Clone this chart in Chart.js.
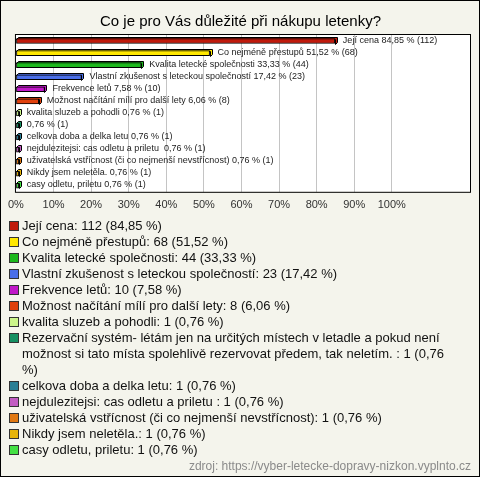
<!DOCTYPE html>
<html>
<head>
<meta charset="utf-8">
<script src="https://cdn.jsdelivr.net/npm/chart.js"></script>
<style>
    html, body { margin: 0; padding: 0; background: #f4f4ec; }
    #wrap {
        position: relative;
        width: 478px;
        height: 475px;
        border: 1px solid #000;
        background: #f4f4ec;
        font-family: "Liberation Sans", Arial, sans-serif;
    }
    #chartBox { position: absolute; left: 0; top: 0; width: 478px; height: 219px; }
    #legend {
        position: absolute;
        left: 8px;
        top: 217px;
        width: 448px;
        font-size: 13px;
        line-height: 16px;
        color: #111;
    }
    .item { display: flex; align-items: flex-start; }
    .box {
        flex: none;
        width: 8px;
        height: 8px;
        border: 1px solid #333;
        margin: 3px 3px 0 0;
    }
    #source {
        position: absolute;
        right: 8px;
        top: 458px;
        font-size: 12px;
        color: #8a8a8a;
    }
</style>
</head>
<body>
<div id="wrap">
    <div id="chartBox"><canvas id="answersChart"></canvas></div>
    <div id="legend"></div>
    <div id="source">zdroj: https://vyber-letecke-dopravy-nizkon.vyplnto.cz</div>
</div>
<script>
// Answers to the question
const categories = [
    'Její cena',
    'Co nejméně přestupů',
    'Kvalita letecké společnosti',
    'Vlastní zkušenost s leteckou společností',
    'Frekvence letů',
    'Možnost načítání mílí pro další lety',
    'kvalita sluzeb a pohodli',
    'Rezervační systém- létám jen na určitých místech v letadle a pokud není možnost si tato místa spolehlivě rezervovat předem, tak neletím. ',
    'celkova doba a delka letu',
    'nejdulezitejsi: cas odletu a priletu ',
    'uživatelská vstřícnost (či co nejmenší nevstřícnost)',
    'Nikdy jsem neletěla.',
    'casy odletu, priletu'
];
// names printed next to the bars (the long one is left out there)
const barNames = categories.map((c, i) => i === 7 ? '' : c);
const counts = [112, 68, 44, 23, 10, 8, 1, 1, 1, 1, 1, 1, 1];
const percents = [84.85, 51.52, 33.33, 17.42, 7.58, 6.06, 0.76, 0.76, 0.76, 0.76, 0.76, 0.76, 0.76];
const colors = [
    '#c01a0c', '#ffe800', '#1cb81c', '#4a6ee8', '#c018c8', '#e0400c', '#ccf58a',
    '#169062', '#2a7f95', '#c25cc2', '#e07812', '#e6b40a', '#44e044'
];
const xTicks = [0, 10, 20, 30, 40, 50, 60, 70, 80, 90, 100];

function fmt(v) {
    return v.toFixed(2).replace('.', ',');
}

// White plot box with black frame
const plotBox = {
    id: 'plotBox',
    beforeDraw(chart) {
        const a = chart.chartArea;
        const ctx = chart.ctx;
        ctx.save();
        ctx.fillStyle = '#fff';
        ctx.fillRect(a.left, a.top, a.right - a.left, a.bottom - a.top);
        ctx.restore();
    },
    afterDraw(chart) {
        const a = chart.chartArea;
        const ctx = chart.ctx;
        ctx.save();
        ctx.strokeStyle = '#000';
        ctx.lineWidth = 1;
        ctx.strokeRect(a.left - 0.5, a.top - 0.5, a.right - a.left + 1, a.bottom - a.top + 1);
        ctx.restore();
    }
};

// Fake 3D depth behind each bar
const depth = 2;
const bar3d = {
    id: 'bar3d',
    beforeDatasetsDraw(chart) {
        const ctx = chart.ctx;
        const meta = chart.getDatasetMeta(0);
        ctx.save();
        meta.data.forEach((el, i) => {
            const p = el.getProps(['x', 'y', 'base', 'height'], true);
            const left = Math.round(p.base) + 0.5;
            const right = Math.round(p.x) + 0.5;
            const top = Math.round(p.y - p.height / 2) + 0.5;
            const bottom = top + p.height;
            ctx.beginPath();
            ctx.moveTo(left, top);
            ctx.lineTo(left + depth, top - depth);
            ctx.lineTo(right + depth, top - depth);
            ctx.lineTo(right + depth, bottom - depth);
            ctx.lineTo(right, bottom);
            ctx.lineTo(right, top);
            ctx.closePath();
            ctx.fillStyle = colors[i];
            ctx.fill();
            ctx.strokeStyle = '#000';
            ctx.lineWidth = 1;
            ctx.stroke();
        });
        ctx.restore();
    },
    afterDatasetsDraw(chart) {
        // value labels next to the bars
        const ctx = chart.ctx;
        const meta = chart.getDatasetMeta(0);
        ctx.save();
        ctx.font = '9px "Liberation Sans", Arial, sans-serif';
        ctx.fillStyle = '#222';
        ctx.textBaseline = 'middle';
        meta.data.forEach((el, i) => {
            const p = el.getProps(['x', 'y'], true);
            const name = barNames[i] ? barNames[i] + ' ' : '';
            ctx.fillText(name + fmt(percents[i]) + ' % (' + counts[i] + ')', p.x + depth + 6, p.y - 1);
        });
        ctx.restore();
    }
};

// HTML legend so that long entries can wrap
function buildLegend() {
    const el = document.getElementById('legend');
    el.innerHTML = '';
    categories.forEach((c, i) => {
        const row = document.createElement('div');
        row.className = 'item';
        const box = document.createElement('span');
        box.className = 'box';
        box.style.background = colors[i];
        const txt = document.createElement('span');
        txt.textContent = c + ': ' + counts[i] + ' (' + fmt(percents[i]) + ' %)';
        row.appendChild(box);
        row.appendChild(txt);
        el.appendChild(row);
    });
}

function createAnswersChart() {
    const ctx = document.getElementById('answersChart');
    return new Chart(ctx, {
        type: 'bar',
        data: {
            labels: categories,
            datasets: [{
                data: percents,
                backgroundColor: colors,
                borderColor: '#000',
                borderWidth: 1,
                borderSkipped: false,
                barThickness: 5
            }]
        },
        options: {
            indexAxis: 'y',
            responsive: true,
            maintainAspectRatio: false,
            animation: false,
            layout: {
                padding: { left: 10, right: 9, bottom: 1 }
            },
            plugins: {
                legend: { display: false },
                tooltip: { enabled: false },
                title: {
                    display: true,
                    text: 'Co je pro Vás důležité při nákupu letenky?',
                    color: '#000',
                    font: { family: '"Liberation Sans", Arial, sans-serif', size: 15, weight: 'normal' },
                    padding: { top: 12, bottom: 4 }
                }
            },
            scales: {
                x: {
                    min: 0,
                    max: 120.8,
                    afterBuildTicks: function(scale) {
                        scale.ticks = xTicks.map(v => ({ value: v }));
                    },
                    ticks: {
                        color: '#333',
                        padding: 7,
                        maxRotation: 0,
                        autoSkip: false,
                        font: { family: '"Liberation Sans", Arial, sans-serif', size: 11 },
                        callback: function(value) {
                            return value + '%';
                        }
                    },
                    grid: { color: '#c4c4c4', drawTicks: false },
                    border: { display: false }
                },
                y: {
                    display: false
                }
            }
        },
        plugins: [plotBox, bar3d]
    });
}

buildLegend();
createAnswersChart();
</script>
</body>
</html>
